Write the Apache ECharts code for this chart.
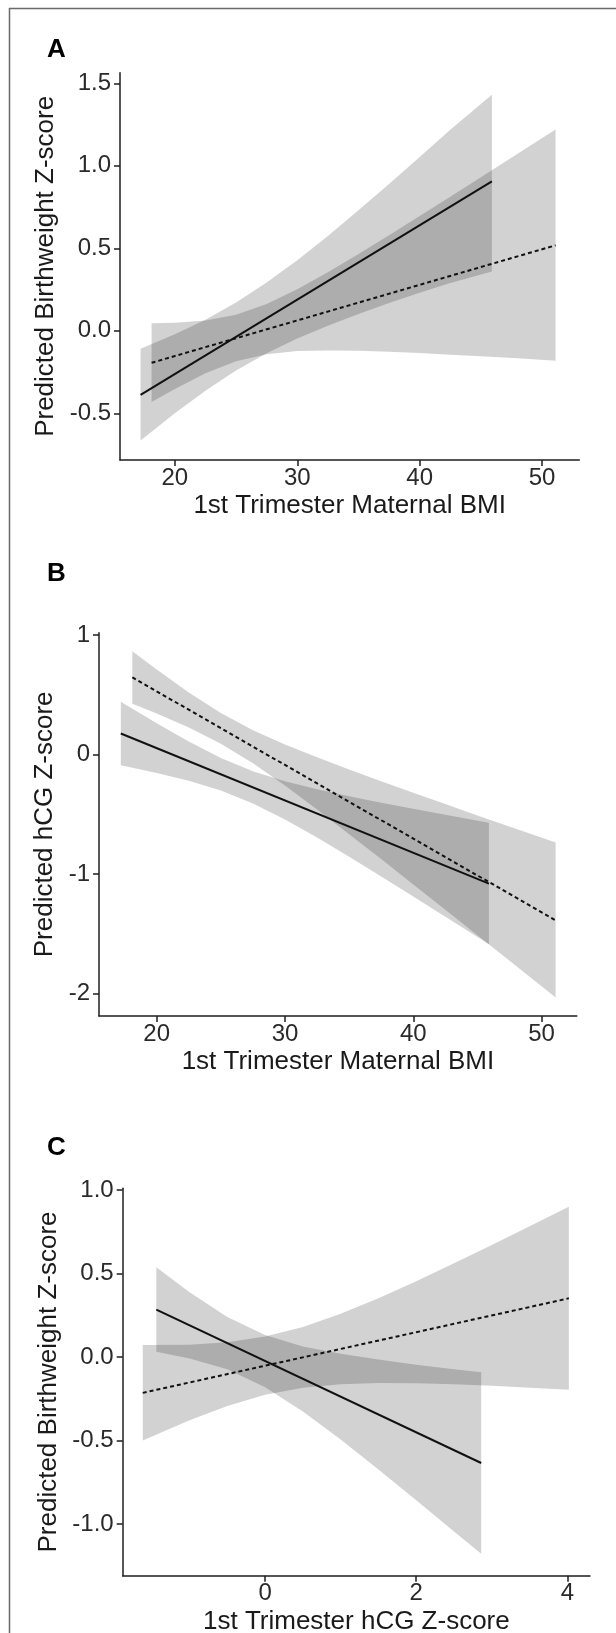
<!DOCTYPE html>
<html>
<head>
<meta charset="utf-8">
<script src="https://cdn.jsdelivr.net/npm/echarts@6/dist/echarts.min.js"></script>
<style>
html,body{margin:0;padding:0;background:#fff;}
#chart{width:616px;height:1633px;}
</style>
</head>
<body>
<div id="chart"></div>
<script>
// ---------- Panel A: BMI -> Birthweight Z-score ----------
const aXTicks = [20, 30, 40, 50];
const aYTicks = [-0.5, 0, 0.5, 1.0, 1.5];
const aSolidBandX  = [17.2, 20, 22.5, 25, 27.5, 30, 32.5, 35, 37.5, 40, 42.5, 45.9];
const aSolidBandLo = [-0.665, -0.499, -0.363, -0.241, -0.136, -0.046, 0.031, 0.102, 0.168, 0.231, 0.290, 0.360];
const aSolidBandHi = [-0.109, -0.021, 0.067, 0.171, 0.292, 0.428, 0.575, 0.730, 0.890, 1.053, 1.218, 1.430];
const aSolidLine   = [[17.2, -0.388], [45.9, 0.906]];
const aDashBandX  = [18.1, 20, 22.5, 25, 27.5, 30, 32.5, 35, 37.5, 40, 42.5, 45, 48, 51.1];
const aDashBandLo = [-0.432, -0.353, -0.258, -0.185, -0.142, -0.123, -0.119, -0.121, -0.127, -0.135, -0.145, -0.155, -0.167, -0.182];
const aDashBandHi = [0.046, 0.049, 0.062, 0.097, 0.162, 0.251, 0.355, 0.465, 0.579, 0.695, 0.813, 0.931, 1.073, 1.220];
const aDashLine   = [[18.1, -0.194], [51.1, 0.518]];

// ---------- Panel B: BMI -> hCG Z-score ----------
const bXTicks = [20, 30, 40, 50];
const bYTicks = [-2, -1, 0, 1];
const bSolidBandX  = [17.2, 20, 22.5, 25, 27.5, 30, 32.5, 35, 37.5, 40, 42.5, 45.9];
const bSolidBandLo = [-0.090, -0.154, -0.220, -0.301, -0.410, -0.544, -0.696, -0.857, -1.022, -1.189, -1.359, -1.590];
const bSolidBandHi = [0.442, 0.262, 0.108, -0.029, -0.140, -0.224, -0.292, -0.349, -0.404, -0.455, -0.505, -0.572];
const bSolidLine   = [[17.2, 0.176], [45.9, -1.082]];
const bDashBandX  = [18.1, 20, 22.5, 25, 27.5, 30, 32.5, 35, 37.5, 40, 42.5, 45, 48, 51.1];
const bDashBandLo = [0.424, 0.343, 0.227, 0.091, -0.074, -0.260, -0.460, -0.667, -0.876, -1.088, -1.301, -1.514, -1.770, -2.036];
const bDashBandHi = [0.864, 0.711, 0.519, 0.347, 0.204, 0.084, -0.024, -0.125, -0.224, -0.320, -0.415, -0.510, -0.622, -0.738];
const bDashLine   = [[18.1, 0.646], [51.1, -1.389]];

// ---------- Panel C: hCG -> Birthweight Z-score ----------
const cXTicks = [0, 2, 4];
const cYTicks = [-1.0, -0.5, 0, 0.5, 1.0];
const cSolidBandX  = [-1.44, -1.0, -0.5, 0, 0.5, 1.0, 1.5, 2.0, 2.5, 2.86];
const cSolidBandLo = [0.031, -0.010, -0.074, -0.181, -0.327, -0.495, -0.674, -0.858, -1.045, -1.179];
const cSolidBandHi = [0.537, 0.388, 0.240, 0.131, 0.063, 0.019, -0.016, -0.046, -0.073, -0.091];
const cSolidLine   = [[-1.44, 0.283], [2.86, -0.635]];
const cDashBandX  = [-1.62, -1.0, -0.5, 0, 0.5, 1.0, 1.5, 2.0, 2.5, 3.0, 3.5, 4.02];
const cDashBandLo = [-0.501, -0.379, -0.294, -0.226, -0.184, -0.163, -0.156, -0.158, -0.163, -0.173, -0.184, -0.197];
const cDashBandHi = [0.071, 0.073, 0.088, 0.122, 0.180, 0.259, 0.352, 0.454, 0.561, 0.671, 0.782, 0.899];
const cDashLine   = [[-1.62, -0.215], [4.02, 0.351]];

// ---------- Texts ----------
const panelLabels = ['A', 'B', 'C'];
const xTitles = ['1st Trimester Maternal BMI', '1st Trimester Maternal BMI', '1st Trimester hCG Z-score'];
const yTitles = ['Predicted Birthweight Z-score', 'Predicted hCG Z-score', 'Predicted Birthweight Z-score'];

// ---------- Build chart ----------
const FONT = '"Liberation Sans", Arial, Helvetica, sans-serif';
const AXIS_COLOR = '#1e1e1e';
const TICK_TEXT = '#2a2a2a';
const BAND_FILL = 'rgba(0,0,0,0.175)';

const grids = [
  {left: 120, top: 72.7, width: 459.3, height: 387.3},
  {left: 99, top: 632.7, width: 477.8, height: 383.3},
  {left: 122.7, top: 1188.3, width: 467.3, height: 387.4}
];
const xRanges = [[15.52, 53.04], [15.5, 52.75], [-1.885, 4.30]];
const yRanges = [[-0.783, 1.564], [-2.19, 1.02], [-1.31, 1.01]];
const xTickSets = [aXTicks, bXTicks, cXTicks];
const yTickSets = [aYTicks, bYTicks, cYTicks];
const yFmt = [v => v.toFixed(1), v => String(Math.round(v)), v => v.toFixed(1)];
const yNameGaps = [52, 30, 54.7];
const labelY = [50, 574, 1148];

function bandSeries(idx, xs, lo, hi) {
  return {
    type: 'custom',
    xAxisIndex: idx, yAxisIndex: idx,
    silent: true,
    z: 1,
    data: [[xs[0], lo[0]]],
    renderItem: function (params, api) {
      const pts = [];
      for (let i = 0; i < xs.length; i++) pts.push(api.coord([xs[i], hi[i]]));
      for (let i = xs.length - 1; i >= 0; i--) pts.push(api.coord([xs[i], lo[i]]));
      return {type: 'polygon', shape: {points: pts}, style: {fill: BAND_FILL, stroke: null}};
    }
  };
}
function lineSeries(idx, data, dashed) {
  return {
    type: 'line',
    xAxisIndex: idx, yAxisIndex: idx,
    data: data,
    showSymbol: false,
    symbol: 'none',
    silent: true,
    z: 3,
    lineStyle: {color: '#111', width: 2, type: dashed ? [4, 3] : 'solid'}
  };
}

const xAxes = [], yAxes = [];
for (let i = 0; i < 3; i++) {
  xAxes.push({
    type: 'value', gridIndex: i,
    min: xRanges[i][0], max: xRanges[i][1],
    name: xTitles[i], nameLocation: 'middle', nameGap: 33,
    nameTextStyle: {fontSize: 26, color: '#1a1a1a', fontFamily: FONT},
    axisLine: {show: true, onZero: false, lineStyle: {color: AXIS_COLOR, width: 1.5}},
    axisTick: {show: true, length: 6, customValues: xTickSets[i], lineStyle: {color: AXIS_COLOR, width: 1.5}},
    axisLabel: {customValues: xTickSets[i], margin: 6, fontSize: 24, color: TICK_TEXT, fontFamily: FONT,
      formatter: v => String(v)},
    splitLine: {show: false}
  });
  yAxes.push({
    type: 'value', gridIndex: i,
    min: yRanges[i][0], max: yRanges[i][1],
    name: yTitles[i], nameLocation: 'middle', nameGap: yNameGaps[i],
    nameTextStyle: {fontSize: 26, color: '#1a1a1a', fontFamily: FONT},
    axisLine: {show: true, onZero: false, lineStyle: {color: AXIS_COLOR, width: 1.5}},
    axisTick: {show: true, length: 6, customValues: yTickSets[i], lineStyle: {color: AXIS_COLOR, width: 1.5}},
    axisLabel: {customValues: yTickSets[i], margin: 9, fontSize: 24, color: TICK_TEXT, fontFamily: FONT,
      formatter: yFmt[i]},
    splitLine: {show: false}
  });
}

const series = [
  bandSeries(0, aSolidBandX, aSolidBandLo, aSolidBandHi),
  bandSeries(0, aDashBandX, aDashBandLo, aDashBandHi),
  lineSeries(0, aSolidLine, false),
  lineSeries(0, aDashLine, true),
  bandSeries(1, bSolidBandX, bSolidBandLo, bSolidBandHi),
  bandSeries(1, bDashBandX, bDashBandLo, bDashBandHi),
  lineSeries(1, bSolidLine, false),
  lineSeries(1, bDashLine, true),
  bandSeries(2, cSolidBandX, cSolidBandLo, cSolidBandHi),
  bandSeries(2, cDashBandX, cDashBandLo, cDashBandHi),
  lineSeries(2, cSolidLine, false),
  lineSeries(2, cDashLine, true)
];

const graphics = [
  {type: 'line', silent: true, shape: {x1: 9, y1: 8.5, x2: 616, y2: 8.5}, style: {stroke: '#6a6a6a', lineWidth: 1.5}},
  {type: 'line', silent: true, shape: {x1: 9.5, y1: 8, x2: 9.5, y2: 1633}, style: {stroke: '#6a6a6a', lineWidth: 1.5}}
];
for (let i = 0; i < 3; i++) {
  graphics.push({
    type: 'text', silent: true, x: 47, y: labelY[i],
    style: {text: panelLabels[i], fontSize: 26, fontWeight: 'bold', fontFamily: FONT, fill: '#000',
      align: 'left', verticalAlign: 'middle'}
  });
}

const chart = echarts.init(document.getElementById('chart'), null, {renderer: 'canvas', width: 616, height: 1633});
chart.setOption({
  animation: false,
  backgroundColor: '#ffffff',
  grid: grids.map(g => Object.assign({containLabel: false, outerBoundsMode: 'none'}, g)),
  xAxis: xAxes,
  yAxis: yAxes,
  series: series,
  graphic: graphics
});
</script>
</body>
</html>
